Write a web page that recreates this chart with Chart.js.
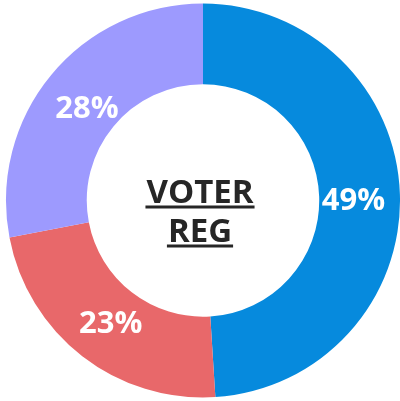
<!DOCTYPE html>
<html>
<head>
<meta charset="utf-8">
<script src="https://cdn.jsdelivr.net/npm/chart.js@4"></script>
<style>
  html, body { margin: 0; padding: 0; background: #fff; }
  #wrap { width: 400px; height: 401px; }
</style>
</head>
<body>
<div id="wrap"><canvas id="myChart"></canvas></div>
<script>
var labels = ["Registered A", "Registered B", "Registered C"];
var values = [49, 23, 28];
var barColors = ["#068ADD", "#E8686A", "#9D9AFE"];
var centerLines = ["VOTER", "REG"];

// percent labels drawn on each slice
var sliceLabels = {
  id: "sliceLabels",
  afterDatasetsDraw: function(chart) {
    var ctx = chart.ctx;
    var meta = chart.getDatasetMeta(0);
    ctx.save();
    ctx.font = "bold 31px 'Open Sans'";
    ctx.fillStyle = "#ffffff";
    ctx.textAlign = "center";
    ctx.textBaseline = "middle";
    meta.data.forEach(function(arc, i) {
      var mid = (arc.startAngle + arc.endAngle) / 2;
      var r = (arc.innerRadius + arc.outerRadius) / 2 - 6;
      var x = arc.x + Math.cos(mid) * r;
      var y = arc.y + Math.sin(mid) * r;
      ctx.fillText(values[i] + "%", x, y + 5);
    });
    ctx.restore();
  }
};

// underlined title in the hole
var centerText = {
  id: "centerText",
  afterDraw: function(chart) {
    var ctx = chart.ctx;
    var a = chart.chartArea;
    var cx = (a.left + a.right) / 2 - 3;
    var cy = (a.top + a.bottom) / 2;
    ctx.save();
    ctx.font = "bold 33px 'Open Sans'";
    ctx.fillStyle = "#262626";
    ctx.textAlign = "center";
    ctx.textBaseline = "alphabetic";
    var base = [cy + 2, cy + 41];
    centerLines.forEach(function(t, i) {
      ctx.fillText(t, cx, base[i]);
      var w = ctx.measureText(t).width;
      ctx.fillRect(cx - w / 2 - 1, base[i] + 3, w + 2, 3);
    });
    ctx.restore();
  }
};

new Chart("myChart", {
  type: "doughnut",
  data: {
    labels: labels,
    datasets: [{
      data: values,
      backgroundColor: barColors,
      borderWidth: 0
    }]
  },
  options: {
    responsive: true,
    maintainAspectRatio: false,
    animation: false,
    cutout: "59%",
    layout: { padding: { left: 6, right: 0, top: 0, bottom: 0 } },
    plugins: {
      legend: { display: false },
      tooltip: { enabled: false }
    }
  },
  plugins: [sliceLabels, centerText]
});
</script>
</body>
</html>
